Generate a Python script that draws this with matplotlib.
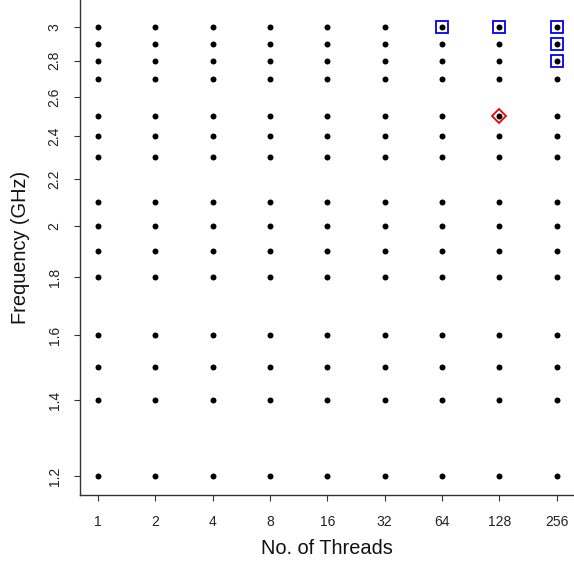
import numpy as np
import matplotlib
matplotlib.use("Agg")
import matplotlib.pyplot as plt

plt.rcParams['font.family'] = ['Liberation Sans', 'DejaVu Sans']

threads = [1, 2, 4, 8, 16, 32, 64, 128, 256]
freqs = [1.2, 1.4, 1.5, 1.6, 1.8, 1.9, 2.0, 2.1, 2.3, 2.4, 2.5, 2.7, 2.8, 2.9, 3.0]

blue_threads = [64, 128, 256, 256, 256]
blue_freqs = [3.0, 3.0, 3.0, 2.9, 2.8]

red_threads = [128]
red_freqs = [2.5]

xtick_vals = [1, 2, 4, 8, 16, 32, 64, 128, 256]
xtick_labels = ["1", "2", "4", "8", "16", "32", "64", "128", "256"]
ytick_vals = [1.2, 1.4, 1.6, 1.8, 2.0, 2.2, 2.4, 2.6, 2.8, 3.0]
ytick_labels = ["1.2", "1.4", "1.6", "1.8", "2", "2.2", "2.4", "2.6", "2.8", "3"]

W, H = 574, 567
fig = plt.figure(figsize=(W / 100, H / 100), dpi=100)
left, right, top, bottom = 80, 574, 0, 495
ax = fig.add_axes([left / W, 1 - bottom / H, (right - left) / W, (bottom - top) / H])

X, Y = np.meshgrid(threads, freqs)
ax.plot(X.ravel(), Y.ravel(), 'o', color='black', markersize=4.3, markeredgewidth=0, zorder=3)
ax.plot(blue_threads, blue_freqs, 's', markerfacecolor='none', markeredgecolor='#0000ee',
        markersize=8.2, markeredgewidth=1.3, zorder=4)
ax.plot(red_threads, red_freqs, 'D', markerfacecolor='none', markeredgecolor='#ee0000',
        markersize=7.2, markeredgewidth=1.3, zorder=4)

ax.set_xscale('log', base=2)
ax.set_yscale('log')
ax.set_xlim(2 ** -0.31, 256 * 2 ** 0.30)
ax.set_ylim(1.2 * np.exp(-0.039), 3.0 * np.exp(0.055))

ax.set_xticks(xtick_vals)
ax.set_xticklabels(xtick_labels)
ax.set_yticks(ytick_vals)
ax.set_yticklabels(ytick_labels, rotation=90, va='center')
ax.minorticks_off()
ax.yaxis.set_minor_locator(matplotlib.ticker.NullLocator())
ax.xaxis.set_minor_locator(matplotlib.ticker.NullLocator())

for s in ['top', 'right']:
    ax.spines[s].set_visible(False)
for s in ['left', 'bottom']:
    ax.spines[s].set_linewidth(1.0)
    ax.spines[s].set_color('#333333')

ax.tick_params(axis='both', direction='out', length=4.3, width=0.8, color='#333333',
               labelsize=10, labelcolor='#222222')
ax.tick_params(axis='x', pad=10)
ax.tick_params(axis='y', pad=9)

fig.text(327 / W, 1 - 549 / H, "No. of Threads", ha='center', va='center', fontsize=14.4, color='#111111')
fig.text(21 / W, 1 - 247.5 / H, "Frequency (GHz)", ha='center', va='center', rotation=90,
         fontsize=14.4, color='#111111')

fig.savefig("out.png", dpi=100)
